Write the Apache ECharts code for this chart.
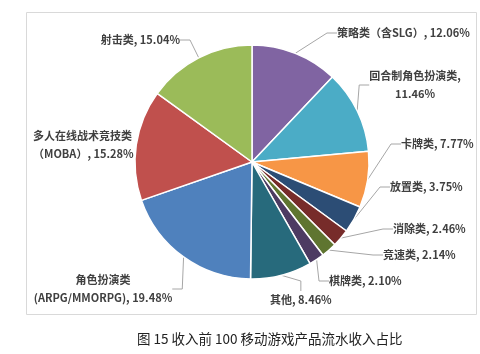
<!DOCTYPE html>
<html>
<head>
<meta charset="utf-8">
<script src="https://cdn.jsdelivr.net/npm/echarts@6/dist/echarts.min.js"></script>
<style>
  html, body { margin: 0; padding: 0; background: #fff; }
  #chart { width: 480px; height: 354px; }
</style>
</head>
<body>
<div id="chart"></div>
<script>
// slice order: clockwise from 12 o'clock
var names = ['策略类（含SLG）', '回合制角色扮演类', '卡牌类', '放置类', '消除类', '竞速类', '棋牌类', '其他', '角色扮演类\n(ARPG/MMORPG)', '多人在线战术竞技类\n（MOBA）', '射击类'];
var shares = [12.06, 11.46, 7.77, 3.75, 2.46, 2.14, 2.10, 8.46, 19.48, 15.28, 15.04];
var colors = ['#8064A2', '#4BACC6', '#F79646', '#2C4D75', '#772C2A', '#5F7530', '#4D3B62', '#276A7C', '#4F81BD', '#C0504D', '#9BBB59'];

// where each label sits (x, y, align)
var labelSpots = [
    [337, 33, 'left'],
    [415, 85, 'center'],
    [401, 144, 'left'],
    [390, 187, 'left'],
    [393, 229, 'left'],
    [383, 255, 'left'],
    [329, 281, 'left'],
    [270, 300, 'left'],
    [103, 289, 'center'],
    [33, 145, 'left'],
    [180, 40, 'right']
];

var chart = echarts.init(document.getElementById('chart'));

var pieData = names.map(function (n, i) {
    var item = { name: n, value: shares[i], itemStyle: { color: colors[i] } };
    if (i === 9) item.labelLine = { show: false };
    return item;
});

chart.setOption({
    animation: false,
    title: {
        text: '图 15 收入前 100 移动游戏产品流水收入占比',
        left: 132,
        top: 327,
        textStyle: {
            fontFamily: 'Noto Sans CJK SC',
            fontSize: 13.5,
            fontWeight: 'normal',
            color: '#222'
        }
    },
    graphic: [{
        type: 'rect',
        shape: { x: 26.5, y: 12.5, width: 450, height: 302 },
        style: { fill: 'none', stroke: '#d9d9d9', lineWidth: 1 },
        silent: true
    }],
    series: [{
        type: 'pie',
        center: [252, 162],
        radius: 117,
        startAngle: 90,
        clockwise: true,
        itemStyle: { borderColor: '#fff', borderWidth: 1.5 },
        label: {
            formatter: function (p) {
                if (p.dataIndex === 1) return p.name + ',\n' + p.value.toFixed(2) + '%';
                return p.name + ', ' + p.value.toFixed(2) + '%';
            },
            fontFamily: 'Noto Sans CJK SC',
            fontSize: 11,
            fontWeight: 'bold',
            color: '#404040',
            lineHeight: 18
        },
        labelLine: {
            show: true,
            length: 10,
            length2: 10,
            lineStyle: { color: '#a6a6a6', width: 1 }
        },
        labelLayout: function (params) {
            var s = labelSpots[params.dataIndex];
            return { x: s[0], y: s[1], align: s[2], verticalAlign: 'middle', hideOverlap: false };
        },
        emphasis: { disabled: true },
        data: pieData
    }]
});
</script>
</body>
</html>
